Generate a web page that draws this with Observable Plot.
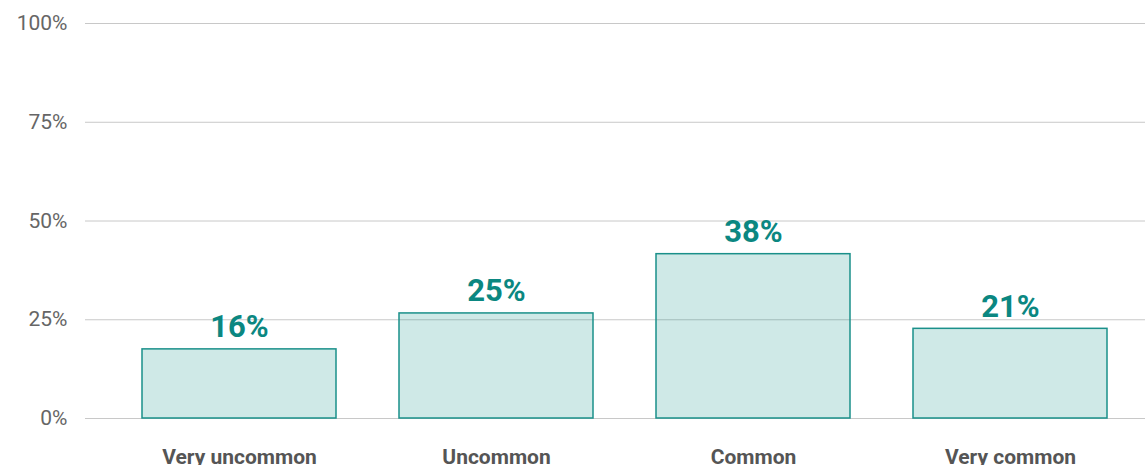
<!DOCTYPE html>
<html>
<head>
<meta charset="utf-8">
<script src="https://cdn.jsdelivr.net/npm/d3@7"></script>
<script src="https://cdn.jsdelivr.net/npm/@observablehq/plot@0.6"></script>
<style>
  html, body { margin: 0; padding: 0; background: #fff; }
  #chart svg { display: block; }
</style>
</head>
<body>
<div id="chart"></div>
<script>
const categories = ["Very uncommon", "Uncommon", "Common", "Very common"];
const barValues = [17.5, 26.6, 41.6, 22.7];
const valueLabels = ["16%", "25%", "38%", "21%"];
const yTicks = [0, 25, 50, 75, 100];
const yTickLabels = ["0%", "25%", "50%", "75%", "100%"];

const data = categories.map((c, i) => ({category: c, value: barValues[i], label: valueLabels[i]}));

const chart = Plot.plot({
  width: 1145,
  height: 465,
  marginTop: 23,
  marginBottom: 47,
  marginLeft: 85,
  marginRight: 0,
  style: {fontFamily: "Roboto, sans-serif", background: "#fff"},
  x: {domain: categories, paddingInner: 0.245, paddingOuter: 0.1825, align: 0.595, label: null},
  y: {domain: [0, 100], label: null},
  marks: [
    Plot.ruleY(yTicks, {stroke: "#c8c8c8", strokeWidth: 1}),
    Plot.axisY({
      ticks: yTicks,
      tickSize: 0,
      tickPadding: 18,
      tickFormat: (d) => yTickLabels[yTicks.indexOf(d)],
      fontSize: 21,
      fill: "#666",
      label: null
    }),
    Plot.axisX({
      tickSize: 0,
      tickPadding: 31,
      fontSize: 21,
      fontWeight: "bold",
      fill: "#555",
      label: null
    }),
    Plot.barY(data, {
      x: "category",
      y: "value",
      fill: "#0f8f89",
      fillOpacity: 0.2,
      stroke: "#1a908a",
      strokeWidth: 1.5
    }),
    Plot.text(data, {
      x: "category",
      y: "value",
      text: "label",
      dy: -12,
      lineAnchor: "bottom",
      fontSize: 31,
      fontWeight: "bold",
      fill: "#0b8781"
    })
  ]
});
document.getElementById("chart").append(chart);
</script>
</body>
</html>
